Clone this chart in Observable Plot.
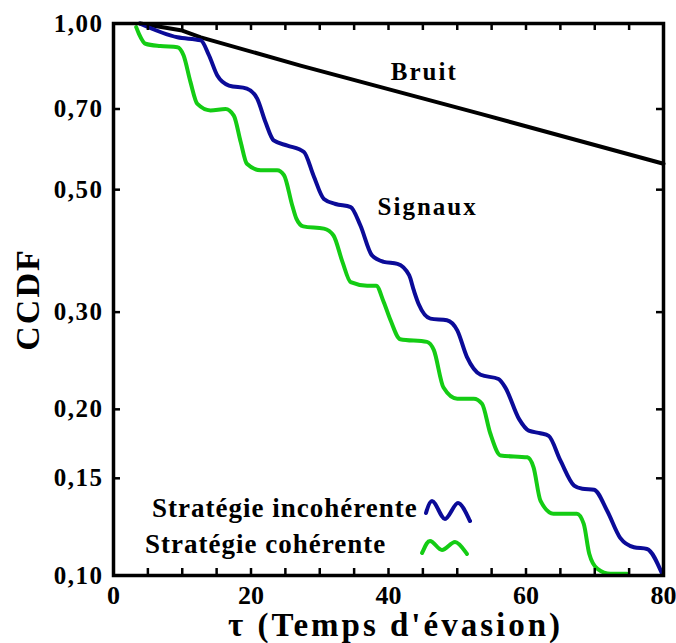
<!DOCTYPE html>
<html><head><meta charset="utf-8">
<script src="https://cdn.jsdelivr.net/npm/d3@7"></script>
<script src="https://cdn.jsdelivr.net/npm/@observablehq/plot@0.6"></script>
<style>
html,body{margin:0;padding:0;background:#fff;}
#wrap{position:relative;width:676px;height:643px;overflow:hidden;}
#legend{position:absolute;left:0;top:0;pointer-events:none;}
#chart g[aria-label="y-axis tick label"] text{letter-spacing:1.5px;}
</style></head><body>
<div id="wrap"><div id="chart"></div>
<svg id="legend" width="676" height="643" xmlns="http://www.w3.org/2000/svg"></svg></div>
<script>
// ---- Data ----
const noiseX = [3.9, 10, 12.7, 27.2, 53.4, 80];
const noiseY = [1.0, 0.971, 0.944, 0.839, 0.686, 0.557];

const incoherentX = [3.8, 9.3, 12.7, 13.9, 15.1, 16.8, 19.4, 20.9, 22.1, 23.3, 25.3, 27.7, 29.1, 30.6, 32.3, 34.5, 35.9, 37.6, 39.3, 41.3, 43.0, 43.7, 44.4, 46.1, 48.5, 50.0, 51.4, 53.4, 56.0, 57.0, 59.0, 60.4, 62.1, 63.3, 65.0, 67.0, 68.2, 69.9, 71.8, 73.7, 75.7, 77.6, 79.8];
const incoherentY = [1.0, 0.944, 0.932, 0.875, 0.805, 0.772, 0.762, 0.731, 0.663, 0.614, 0.601, 0.585, 0.530, 0.481, 0.471, 0.465, 0.431, 0.380, 0.370, 0.367, 0.350, 0.328, 0.310, 0.292, 0.290, 0.278, 0.249, 0.231, 0.227, 0.219, 0.192, 0.183, 0.181, 0.179, 0.1616, 0.1455, 0.1436, 0.143, 0.131, 0.117, 0.1125, 0.1117, 0.1007];

const coherentX = [3.3, 3.7, 4.65, 6.8, 9.3, 10.2, 11.2, 12.2, 14.1, 16.3, 17.5, 18.5, 19.4, 21.4, 23.8, 24.8, 26.0, 26.6, 27.6, 30.6, 32.0, 33.3, 34.5, 36.9, 38.2, 39.3, 40.3, 41.7, 45.6, 46.6, 48.0, 50.0, 52.4, 53.6, 54.8, 56.3, 60.2, 61.1, 62.1, 64.0, 67.4, 68.4, 69.2, 70.4, 72.3, 74.7];
const coherentY = [0.985, 0.958, 0.919, 0.910, 0.906, 0.875, 0.783, 0.715, 0.696, 0.700, 0.681, 0.610, 0.557, 0.542, 0.542, 0.531, 0.468, 0.443, 0.429, 0.425, 0.413, 0.370, 0.340, 0.335, 0.335, 0.313, 0.290, 0.268, 0.265, 0.256, 0.219, 0.209, 0.209, 0.2047, 0.181, 0.165, 0.1637, 0.157, 0.1367, 0.1294, 0.1294, 0.124, 0.1095, 0.1028, 0.1007, 0.1007];

const xLabelTicks = [0, 20, 40, 60, 80];
const xMinorTicks = [0, 5, 10, 15, 20, 25, 30, 35, 40, 45, 50, 55, 60, 65, 70, 75, 80];
const yTicks = [0.10, 0.15, 0.20, 0.30, 0.50, 0.70, 1.00];

const annotText = ["Bruit", "Signaux"];
const annotX = [45.2, 45.7];
const annotY = [0.818, 0.466];

const legendLabels = ["Stratégie incohérente", "Stratégie cohérente"];
const xTitle = "τ (Temps d'évasion)";
const yTitle = "CCDF";

const BLUE = "#0b0b98";
const GREEN = "#14cc14";

// ---- Tables ----
const noise = noiseX.map((x, i) => ({x, y: noiseY[i]}));
const incoherent = incoherentX.map((x, i) => ({x, y: incoherentY[i]}));
const coherent = coherentX.map((x, i) => ({x, y: coherentY[i]}));
const annots = annotText.map((t, i) => ({t, x: annotX[i], y: annotY[i]}));

const W = 676, H = 643, mL = 113, mR = 13, mT = 23, mB = 68;
const plotW = W - mL - mR, plotH = H - mT - mB;
const FONT = "'Liberation Serif', 'Times New Roman', serif";

const chart = Plot.plot({
  width: W, height: H,
  marginLeft: mL, marginRight: mR, marginTop: mT, marginBottom: mB,
  style: {fontFamily: FONT, fontWeight: "bold", color: "black", background: "white", overflow: "visible"},
  x: {domain: [0, 80]},
  y: {type: "log", domain: [0.1, 1]},
  marks: [
    Plot.line(noise, {x: "x", y: "y", stroke: "black", strokeWidth: 4}),
    Plot.line(coherent, {x: "x", y: "y", stroke: GREEN, strokeWidth: 4, curve: "monotone-x"}),
    Plot.line(incoherent, {x: "x", y: "y", stroke: BLUE, strokeWidth: 4, curve: "monotone-x"}),
    Plot.ruleX(xMinorTicks, {x: d => d, insetTop: plotH - 7, stroke: "black", strokeWidth: 2.5}),
    Plot.ruleX(xMinorTicks, {x: d => d, insetBottom: plotH - 7, stroke: "black", strokeWidth: 2.5}),
    Plot.ruleY(yTicks, {y: d => d, insetRight: plotW - 7, stroke: "black", strokeWidth: 2.5}),
    Plot.ruleY(yTicks, {y: d => d, insetLeft: plotW - 7, stroke: "black", strokeWidth: 2.5}),
    Plot.frame({stroke: "black", strokeWidth: 3.5}),
    Plot.axisX({ticks: xLabelTicks, tickSize: 0, tickPadding: 10, fontSize: 26, label: null, tickFormat: d => String(d)}),
    Plot.axisY({ticks: yTicks, tickSize: 0, tickPadding: 10, fontSize: 25, label: null,
                tickFormat: d => d.toFixed(2).replace(".", ",")}),
    Plot.text(annots, {x: "x", y: "y", text: "t", fontSize: 25, fill: "black"}),
    Plot.text([xTitle], {text: d => d, frameAnchor: "bottom", textAnchor: "middle", lineAnchor: "middle", dy: 50, dx: 7, fontSize: 33, fill: "black"}),
    Plot.text([yTitle], {text: d => d, frameAnchor: "left", textAnchor: "middle", lineAnchor: "middle", dx: -85, rotate: -90, fontSize: 34, fill: "black"})
  ]
});
document.getElementById("chart").appendChild(chart);

// letter spacing to match the wide lettering of the reference
const spacing = {"Bruit": 2, "Signaux": 2, [xTitle]: 3, [yTitle]: 2};
d3.select(chart).selectAll("text").each(function() {
  const s = spacing[this.textContent];
  if (s) this.style.letterSpacing = s + "px";
});

// ---- Legend (drawn over the plot) ----
const leg = d3.select("#legend");
const legendItems = [
  {label: legendLabels[0], color: BLUE, tx: 152, ty: 517, wave: "M426,513 C428,506 430,501 432,501 C436,501 441,519 445,519 C449,519 454,503 458,503 C462,503 467,515 470,521"},
  {label: legendLabels[1], color: GREEN, tx: 145, ty: 553, wave: "M422,553 C425,547 427,541 430,541 C434,541 438,550 442,550 C446,550 451,542 455,542 C459,542 464,550 467,554"}
];
for (const it of legendItems) {
  leg.append("text").attr("x", it.tx).attr("y", it.ty)
    .attr("font-family", FONT).attr("font-weight", "bold").attr("font-size", 27)
    .style("letter-spacing", "1px")
    .attr("fill", "black").text(it.label);
  leg.append("path").attr("d", it.wave).attr("fill", "none")
    .attr("stroke", it.color).attr("stroke-width", 4).attr("stroke-linecap", "round").attr("stroke-linejoin", "round");
}
</script>
</body></html>
